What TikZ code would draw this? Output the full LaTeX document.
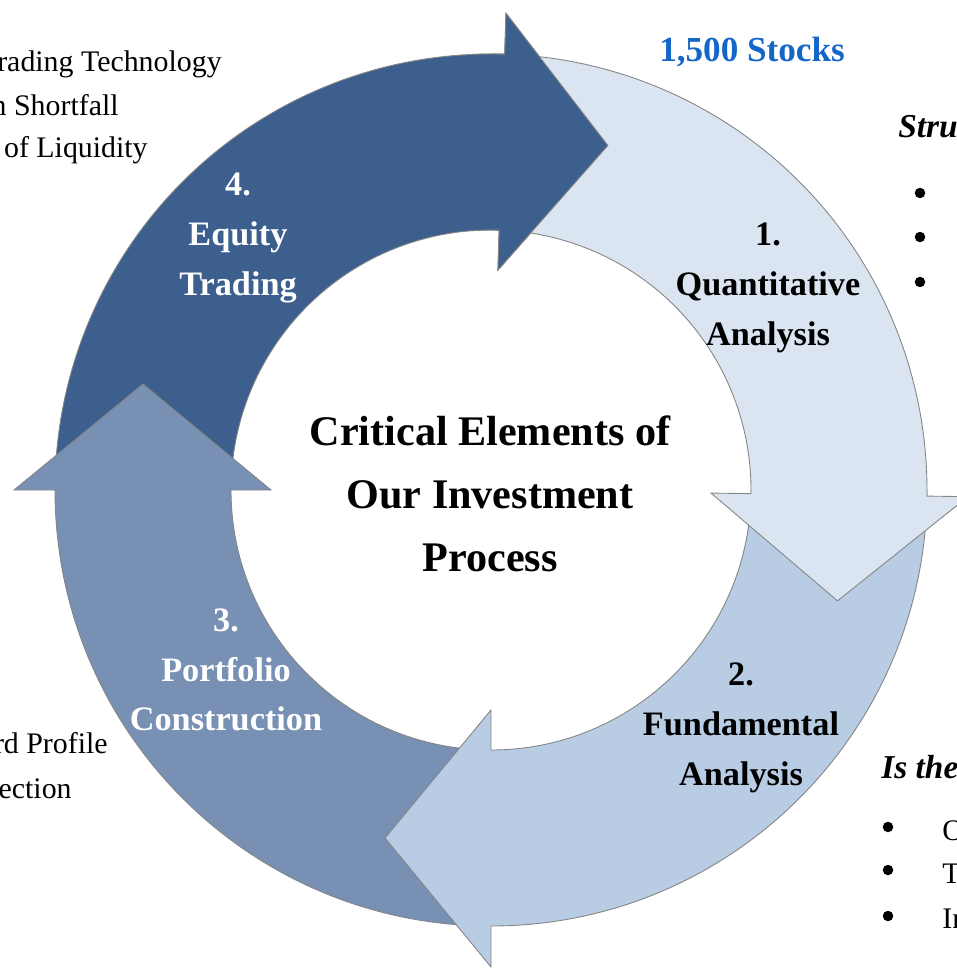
\documentclass[tikz,border=0pt]{standalone}
\usepackage{fontspec}
\setmainfont{Liberation Serif}
\definecolor{tradeblue}{HTML}{3C5F8D}
\definecolor{portblue}{HTML}{7790B4}
\definecolor{fundblue}{HTML}{B8CCE4}
\definecolor{quantblue}{HTML}{DBE5F1}
\definecolor{stockblue}{HTML}{1467C8}
\definecolor{rimgray}{HTML}{858585}
\newcommand{\ringarrow}[3]{%
  \filldraw[ringpart,fill=#3,rotate=#1]
    (180:436) arc[start angle=180,end angle={90-#2},radius=436]
    -- ({90-#2}:477) -- ({73.06-#2}:363.8) -- ({90-#2}:220) -- ({90-#2}:260)
    arc[start angle={90-#2},end angle=180,radius=260] -- cycle;}
\begin{document}
\begin{tikzpicture}[x=0.02cm,y=0.02cm,
ringpart/.style={draw=rimgray,line width=0.5pt,line join=miter},
titletext/.style={font=\fontsize{24}{35.7}\selectfont\bfseries,align=center,inner sep=0pt},
steplabel/.style={font=\fontsize{19.5}{28.3}\selectfont\bfseries,align=center,inner sep=0pt},
sidetext/.style={font=\fontsize{17}{24}\selectfont,inner sep=0pt},
sidehead/.style={font=\fontsize{19}{24}\selectfont\bfseries\itshape,inner sep=0pt},
bulletdot/.style={circle,fill=black,inner sep=0pt,minimum size=0.21cm}]
\useasboundingbox (0,0) rectangle (956,-969);
\begin{scope}[shift={(491,-490)}]
\ringarrow{0}{1.8}{tradeblue}
\ringarrow{90}{0}{portblue}
\ringarrow{180}{0}{fundblue}
\ringarrow{-90}{0.8}{quantblue}
\begin{scope}
\clip (-20,150) rectangle (220,520);
\ringarrow{0}{1.8}{tradeblue}
\end{scope}
\end{scope}
\node[titletext] (title) at (490,-494) {Critical Elements of\\Our Investment\\Process};
\node[steplabel] (quant) at (768,-288) {1.\\Quantitative\\Analysis};
\node[steplabel] (fund) at (741,-728) {2.\\Fundamental\\Analysis};
\node[steplabel,white] (port) at (226,-670) {3.\\Portfolio\\Construction};
\node[steplabel,white] (trade) at (238,-238) {4.\\Equity\\Trading};
\node[font=\fontsize{20}{24}\selectfont\bfseries,text=stockblue,inner sep=0pt,anchor=base] (stocks) at (752,-62) {1,500 Stocks};
\node[sidetext,anchor=base east] (tech) at (222,-72) {rading Technology};
\node[sidetext,anchor=base east] (short) at (119,-116) {n Shortfall};
\node[sidetext,anchor=base east] (liq) at (148,-158) {of Liquidity};
\node[sidetext,anchor=base east] (prof) at (108,-753) {rd Profile};
\node[sidetext,anchor=base east] (sel) at (72,-798) {ection};
\node[sidehead,anchor=base west] (struct) at (898,-138) {Stru};
\node[bulletdot] (sa) at (920,-193) {};
\node[bulletdot] (sb) at (920,-237) {};
\node[bulletdot] (sc) at (920,-282) {};
\node[sidehead,anchor=base west] (isthe) at (881,-778) {Is the};
\node[bulletdot] (ia) at (888,-827) {};
\node[bulletdot] (ib) at (888,-870) {};
\node[bulletdot] (ic) at (888,-916) {};
\node[sidetext,anchor=base west] (io) at (942,-840) {O};
\node[sidetext,anchor=base west] (it) at (942,-883) {T};
\node[sidetext,anchor=base west] (ii) at (942,-928) {In};
\end{tikzpicture}
\end{document}
